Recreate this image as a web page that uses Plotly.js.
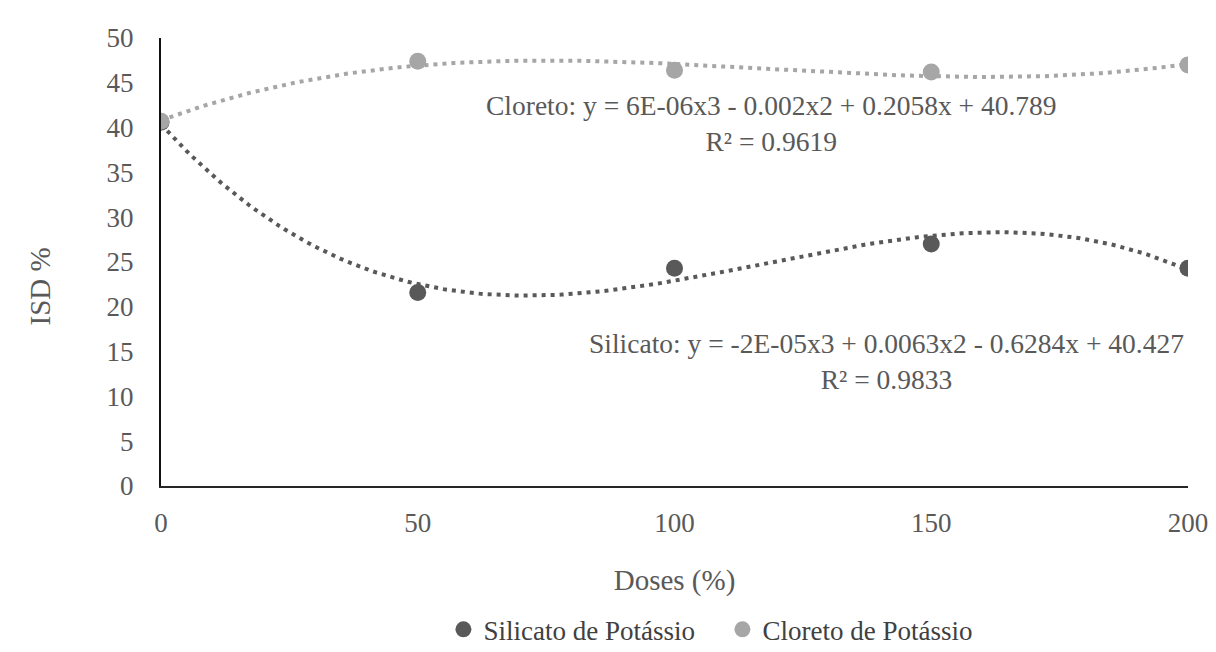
<!DOCTYPE html>
<html>
<head>
<meta charset="utf-8">
<script src="https://cdn.plot.ly/plotly-3.0.1.min.js"></script>
<style>html,body{margin:0;padding:0;background:#fff;}#chart{width:1216px;height:652px;}</style>
</head>
<body>
<div id="chart"></div>
<script>
const doses = [0, 50, 100, 150, 200];
const silicato = [40.6, 21.6, 24.3, 27.0, 24.3];
const cloreto = [40.7, 47.4, 46.4, 46.2, 47.0];
const xTicks = [0, 50, 100, 150, 200];
const silicatoEq = 'Silicato: y = -2E-05x3 + 0.0063x2 - 0.6284x + 40.427<br>R² = 0.9833';
const cloretoEq = 'Cloreto: y = 6E-06x3 - 0.002x2 + 0.2058x + 40.789<br>R² = 0.9619';

// least-squares polynomial fit (degree 3) of the data
function polyfit(xs, ys, deg) {
  const n = deg + 1;
  const A = [];
  for (let i = 0; i < n; i++) {
    A.push(new Array(n + 1).fill(0));
  }
  for (let k = 0; k < xs.length; k++) {
    for (let i = 0; i < n; i++) {
      for (let j = 0; j < n; j++) A[i][j] += Math.pow(xs[k], i + j);
      A[i][n] += ys[k] * Math.pow(xs[k], i);
    }
  }
  for (let i = 0; i < n; i++) {
    let p = i;
    for (let r = i + 1; r < n; r++) if (Math.abs(A[r][i]) > Math.abs(A[p][i])) p = r;
    [A[i], A[p]] = [A[p], A[i]];
    for (let r = 0; r < n; r++) {
      if (r === i) continue;
      const f = A[r][i] / A[i][i];
      for (let c = i; c <= n; c++) A[r][c] -= f * A[i][c];
    }
  }
  return A.map((row, i) => row[n] / row[i]);
}
function curve(xs, ys) {
  const c = polyfit(xs, ys, 3);
  const cx = [], cy = [];
  const x0 = Math.min(...xs), x1 = Math.max(...xs);
  for (let i = 0; i <= 200; i++) {
    const x = x0 + (x1 - x0) * i / 200;
    cx.push(x);
    cy.push(c[0] + c[1] * x + c[2] * x * x + c[3] * x * x * x);
  }
  return {x: cx, y: cy};
}

const darkC = '#595959';
const lightC = '#a6a6a6';
const sc = curve(doses, silicato);
const cc = curve(doses, cloreto);
const font = '"Liberation Serif", "Times New Roman", serif';

const traces = [
  {x: sc.x, y: sc.y, mode: 'lines', line: {color: darkC, width: 4, dash: '4px,5px'}, showlegend: false, hoverinfo: 'skip'},
  {x: cc.x, y: cc.y, mode: 'lines', line: {color: lightC, width: 4, dash: '4px,5px'}, showlegend: false, hoverinfo: 'skip'},
  {x: doses, y: silicato, mode: 'markers', name: 'Silicato de Potássio', marker: {color: darkC, size: 17}},
  {x: doses, y: cloreto, mode: 'markers', name: 'Cloreto de Potássio', marker: {color: lightC, size: 17}}
];

const layout = {
  width: 1216, height: 652,
  margin: {l: 161, r: 28, t: 38, b: 166, autoexpand: false},
  paper_bgcolor: '#fff', plot_bgcolor: '#fff',
  font: {family: font, size: 27, color: darkC},
  showlegend: true,
  legend: {orientation: 'h', x: 0.275, xanchor: 'left', y: -0.321, yanchor: 'middle',
           font: {family: font, size: 27, color: '#404040'}, entrywidth: 234, entrywidthmode: 'pixels'},
  xaxis: {
    range: [0, 200], tickvals: xTicks, ticktext: xTicks.map(String),
    showgrid: false, zeroline: false, showline: true, linecolor: '#262626', linewidth: 2,
    ticks: 'outside', ticklen: 12, tickcolor: 'rgba(0,0,0,0)',
    tickfont: {family: font, size: 27, color: darkC},
    title: {text: 'Doses (%)', font: {family: font, size: 29, color: darkC}, standoff: 32}
  },
  yaxis: {
    range: [0, 50], dtick: 5, tick0: 0,
    showgrid: false, zeroline: false, showline: true, linecolor: '#111', linewidth: 2,
    ticks: 'outside', ticklen: 20, tickcolor: 'rgba(0,0,0,0)',
    tickfont: {family: font, size: 27, color: darkC}
  },
  annotations: [
    {x: 118.8, y: 40.5, xref: 'x', yref: 'y', text: cloretoEq, showarrow: false, align: 'center', font: {family: font, size: 27.5, color: darkC}},
    {x: 141.2, y: 13.85, xref: 'x', yref: 'y', text: silicatoEq, showarrow: false, align: 'center', font: {family: font, size: 27.5, color: darkC}},
    {x: -0.118, y: 0.445, xref: 'paper', yref: 'paper', text: 'ISD %', textangle: -90, showarrow: false, xanchor: 'center', yanchor: 'middle', font: {family: font, size: 29, color: darkC}}
  ]
};

Plotly.newPlot('chart', traces, layout, {displayModeBar: false, staticPlot: true});
</script>
</body>
</html>
